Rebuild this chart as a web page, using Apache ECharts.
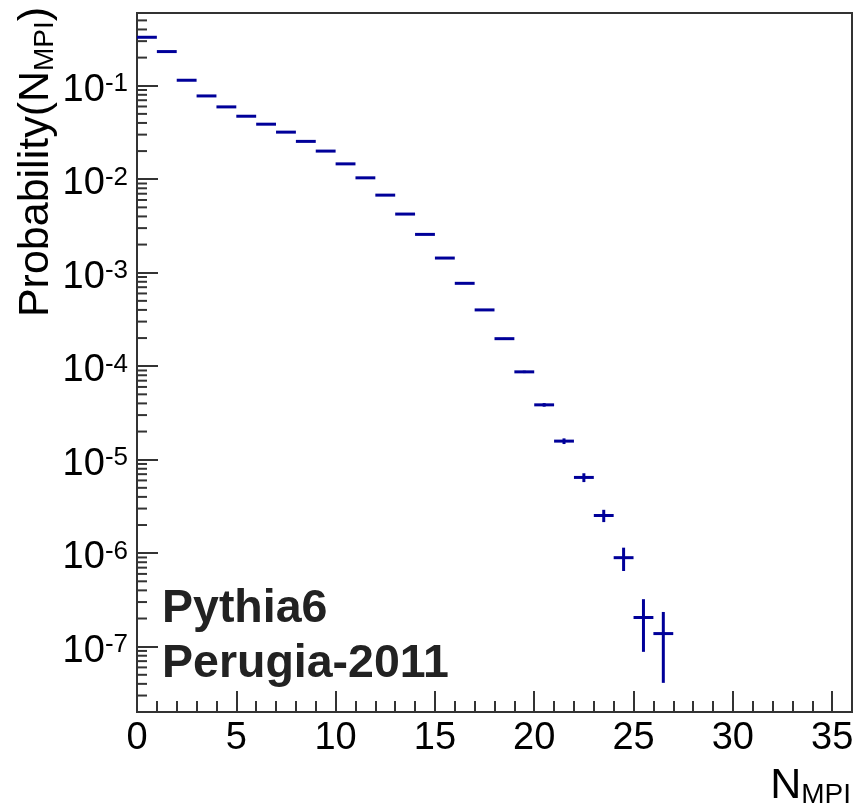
<!DOCTYPE html>
<html><head><meta charset="utf-8">
<script src="https://cdn.jsdelivr.net/npm/echarts@6/dist/echarts.min.js"></script>
<style>html,body{margin:0;padding:0;background:#fff}#c{width:857px;height:806px}</style>
</head><body><div id="c"></div>
<script>
// ---- data ----
const binLow = [0,1,2,3,4,5,6,7,8,9,10,11,12,13,14,15,16,17,18,19,20,21,22,23,24,25,26];
const probability = [0.330,0.232,0.1145,0.0778,0.0594,0.0472,0.0388,0.0319,0.0254,0.0200,
  0.0146,0.01035,0.00676,0.00424,0.00257,0.001435,7.7e-4,4.0e-4,1.97e-4,8.7e-5,
  3.86e-5,1.58e-5,6.46e-6,2.53e-6,8.95e-7,2.05e-7,1.38e-7];
const probErr = [1.6e-4,1.3e-4,9.3e-5,7.6e-5,6.7e-5,6.0e-5,5.4e-5,4.9e-5,4.4e-5,3.9e-5,
  3.3e-5,2.8e-5,2.25e-5,1.8e-5,1.4e-5,1.0e-5,7.6e-6,5.5e-6,3.8e-6,2.6e-6,
  1.7e-6,1.1e-6,7.0e-7,3.8e-7,2.5e-7,1.17e-7,9.7e-8];
const xTickLabels = [0,5,10,15,20,25,30,35];
const yTickExponents = [-7,-6,-5,-4,-3,-2,-1];
const yMinorMantissas = [2,3,4,5,6,7,8,9];
const yMinorDecades = [-8,-7,-6,-5,-4,-3,-2,-1];

const X_MIN = 0, X_MAX = 36, Y_MIN = 2e-8, Y_MAX = 0.6;
const FONT = 'Liberation Sans, Arial, Helvetica, sans-serif';
const AXIS_COLOR = '#333';
const MARK_COLOR = '#000099';

const yMinorTicks = [];
yMinorDecades.forEach(d => yMinorMantissas.forEach(m => {
  const v = m * Math.pow(10, d);
  if (v > Y_MIN * 1.0001 && v < Y_MAX * 0.9999) yMinorTicks.push([0, v]);
}));

const titleRich = {
  m: {fontSize: 43, height: 48, lineHeight: 48, fontFamily: FONT, verticalAlign: 'top', fill: '#000', color: '#000'},
  s: {fontSize: 28, height: 66, lineHeight: 66, fontFamily: FONT, verticalAlign: 'top', fill: '#000', color: '#000'}
};

const chart = echarts.init(document.getElementById('c'), null, {renderer: 'canvas'});
const option = {
  animation: false,
  backgroundColor: '#fff',
  grid: {left: 137, right: 5, top: 13, bottom: 94, show: true, borderColor: AXIS_COLOR, borderWidth: 2},
  xAxis: [{
    type: 'value', min: X_MIN, max: X_MAX, interval: 5, position: 'bottom',
    axisLine: {onZero: false, lineStyle: {color: AXIS_COLOR, width: 2}},
    axisTick: {inside: true, length: 21, lineStyle: {color: AXIS_COLOR, width: 2}},
    axisLabel: {fontSize: 38, color: '#000', margin: 8, fontFamily: FONT,
      formatter: v => xTickLabels.indexOf(v) >= 0 ? String(v) : ''},
    splitLine: {show: false}
  }, {
    type: 'value', min: X_MIN, max: X_MAX, interval: 1, position: 'bottom',
    axisLine: {show: false, onZero: false},
    axisTick: {inside: true, length: 11, lineStyle: {color: AXIS_COLOR, width: 2}},
    axisLabel: {show: false}, splitLine: {show: false}
  }],
  yAxis: [{
    type: 'log', logBase: 10, min: Y_MIN, max: Y_MAX, position: 'left',
    axisLine: {onZero: false, lineStyle: {color: AXIS_COLOR, width: 2}},
    axisTick: {inside: true, length: 21, lineStyle: {color: AXIS_COLOR, width: 2}},
    axisLabel: {
      margin: 9, padding: [9, 0, 0, 0], color: '#000',
      formatter: v => {
        const e = Math.log10(v), r = Math.round(e);
        if (Math.abs(e - r) > 1e-6 || yTickExponents.indexOf(r) < 0) return '';
        return '{b|10}{s|' + r + '}';
      },
      rich: {
        b: {fontSize: 38, lineHeight: 38, fontFamily: FONT, color: '#000', verticalAlign: 'bottom'},
        s: {fontSize: 26, lineHeight: 26, fontFamily: FONT, color: '#000', verticalAlign: 'top'}
      }
    },
    splitLine: {show: false}, minorTick: {show: false}
  }],
  series: [{
    type: 'custom', name: 'yMinorTicks', silent: true, clip: false,
    xAxisIndex: 0, yAxisIndex: 0, encode: {x: 0, y: 1},
    data: yMinorTicks,
    renderItem: (params, api) => {
      const p = api.coord([api.value(0), api.value(1)]);
      return {type: 'line', shape: {x1: p[0], y1: p[1], x2: p[0] + 10, y2: p[1]},
        style: {stroke: AXIS_COLOR, lineWidth: 2}};
    }
  }, {
    type: 'custom', name: 'P(N_MPI)', xAxisIndex: 0, yAxisIndex: 0, encode: {x: 0, y: 1},
    data: binLow.map((b, i) => [b, probability[i], probErr[i]]),
    renderItem: (params, api) => {
      const lo = api.value(0), v = api.value(1), e = api.value(2);
      const pL = api.coord([lo, v]), pR = api.coord([lo + 1, v]);
      const pT = api.coord([lo + 0.5, v + e]), pB = api.coord([lo + 0.5, Math.max(v - e, Y_MIN)]);
      return {type: 'group', children: [
        {type: 'line', shape: {x1: pL[0], y1: pL[1], x2: pR[0], y2: pR[1]}, style: {stroke: MARK_COLOR, lineWidth: 3}},
        {type: 'line', shape: {x1: pT[0], y1: pT[1], x2: pB[0], y2: pB[1]}, style: {stroke: MARK_COLOR, lineWidth: 3}}
      ]};
    }
  }],
  graphic: [
    {type: 'text', x: 162, y: 609, style: {text: 'Pythia6', fill: '#222', fontSize: 46.5, fontWeight: 'bold', fontFamily: FONT,
      align: 'left', verticalAlign: 'middle', textAlign: 'left', textVerticalAlign: 'middle'}},
    {type: 'text', x: 162, y: 664, style: {text: 'Perugia-2011', fill: '#222', fontSize: 46.5, fontWeight: 'bold', fontFamily: FONT,
      align: 'left', verticalAlign: 'middle', textAlign: 'left', textVerticalAlign: 'middle'}},
    {type: 'text', x: 45, y: 162, rotation: Math.PI / 2, style: {
      text: '{m|Probability(N}{s|MPI}{m|)}', fill: '#000',
      align: 'center', verticalAlign: 'middle', textAlign: 'center', textVerticalAlign: 'middle',
      rich: titleRich}},
    {type: 'text', x: 851, y: 762, style: {
      text: '{m|N}{s|MPI}', fill: '#000',
      align: 'right', verticalAlign: 'top', textAlign: 'right', textVerticalAlign: 'top',
      rich: titleRich}}
  ]
};
chart.setOption(option);
</script></body></html>
